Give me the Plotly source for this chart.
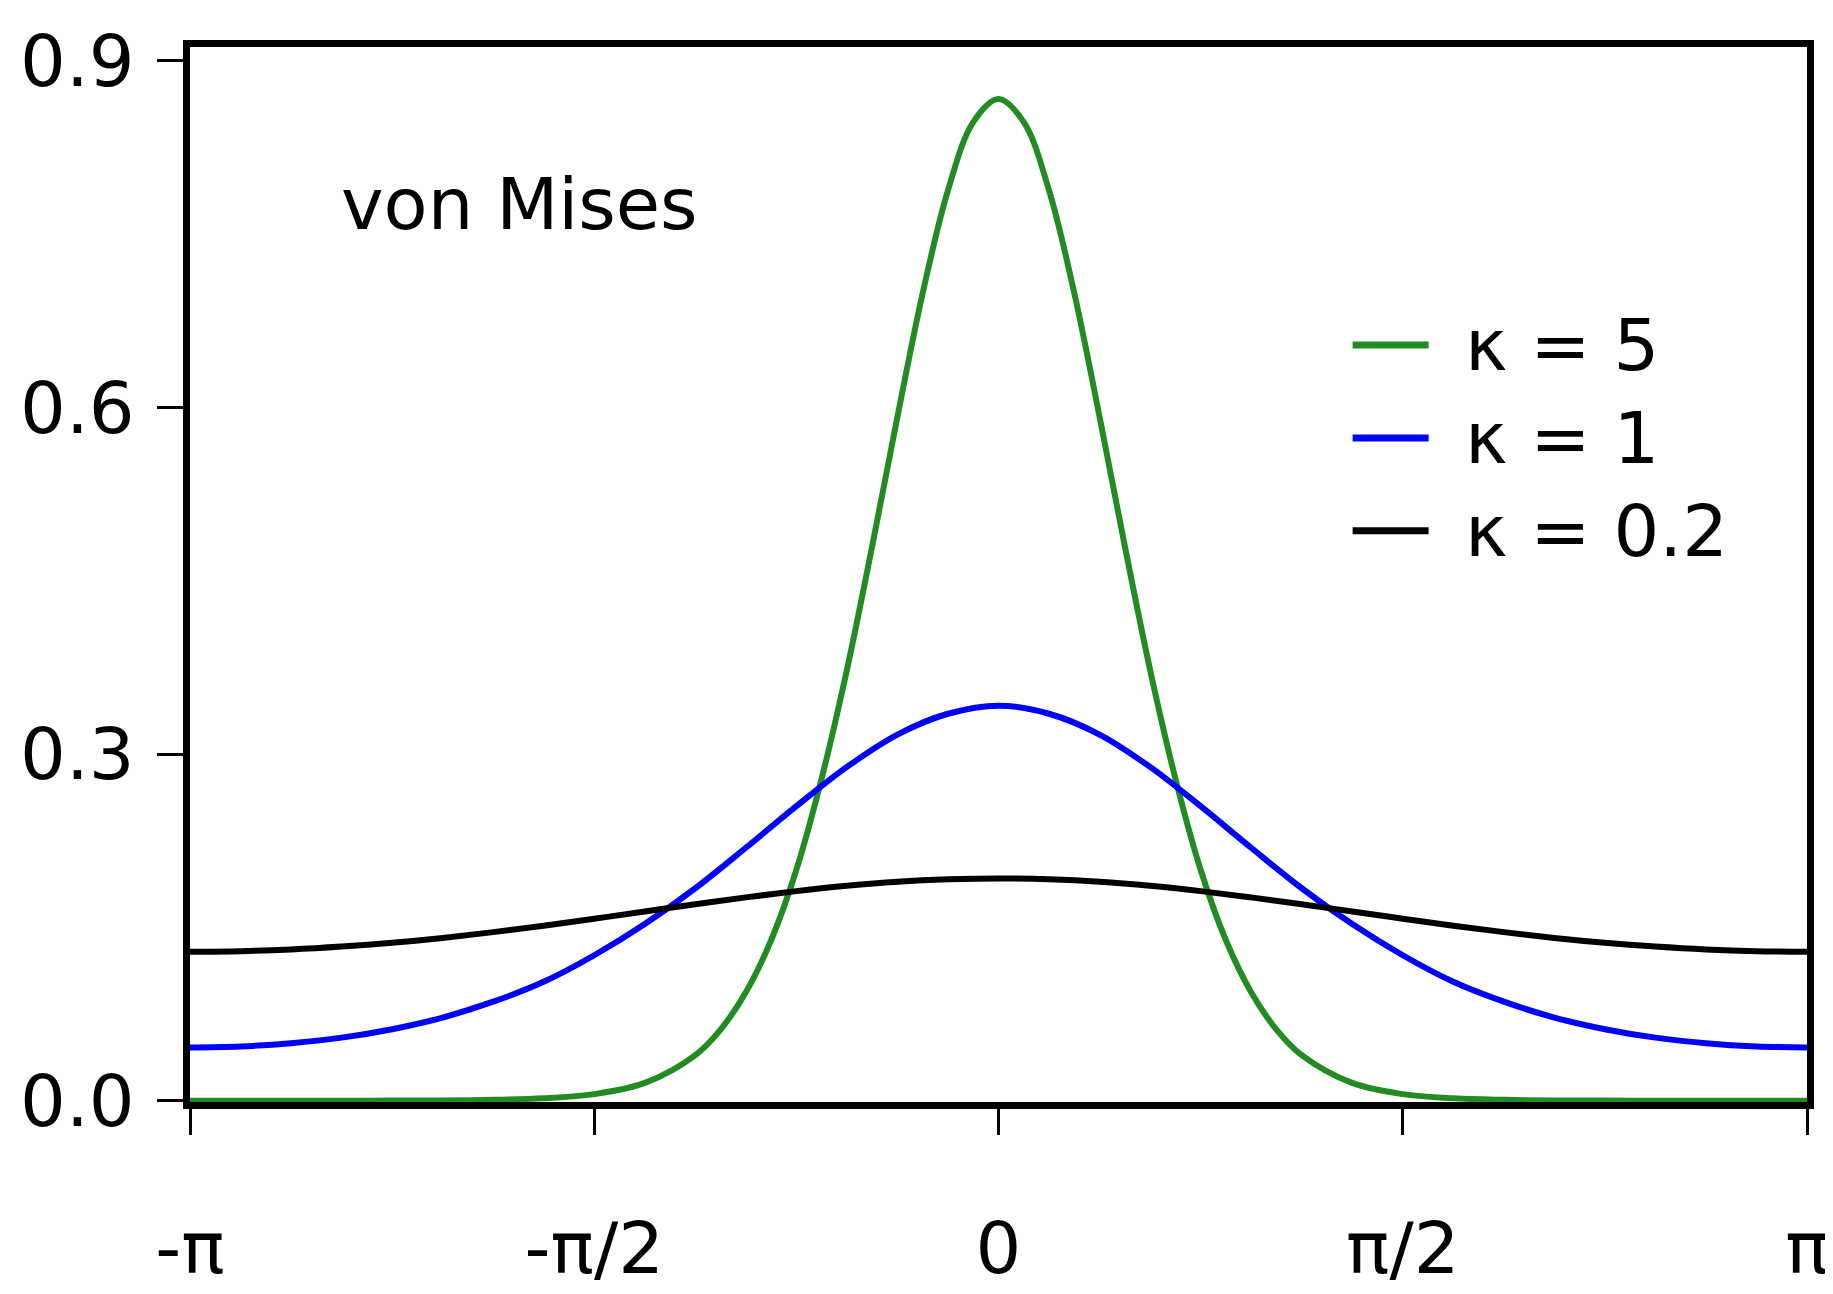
import math
import plotly.graph_objects as go

# sample angles (0..pi), densities; mirrored for negative angles
half_x = [k * math.pi / 16 for k in range(17)]
k5_x = [k * math.pi / 32 for k in range(12)] + [k * math.pi / 16 for k in range(6, 17)]
k5_half = [0.867, 0.847, 0.788, 0.699, 0.592, 0.480, 0.373, 0.279, 0.200, 0.139,
           0.094, 0.0617, 0.0396, 0.0155, 0.0058, 0.0022, 0.0009, 0.0004,
           0.0002, 0.0001, 0.0001, 0.0001, 0.0001]
k1_half = [0.342, 0.335, 0.317, 0.289, 0.255, 0.219, 0.184, 0.153, 0.126,
           0.103, 0.0858, 0.0721, 0.0620, 0.0547, 0.0499, 0.0471, 0.0462]
k02_half = [0.1925, 0.1917, 0.1896, 0.1861, 0.1815, 0.1761, 0.1701, 0.1639, 0.1576,
            0.1515, 0.1460, 0.1410, 0.1368, 0.1335, 0.1310, 0.1295, 0.1290]

def sym_x(h):
    return [-v for v in h[:0:-1]] + h

def sym(h):
    return h[:0:-1] + h

series = [("κ = 5", sym_x(k5_x), sym(k5_half), "#228b22"),
          ("κ = 1", sym_x(half_x), sym(k1_half), "#0000ff"),
          ("κ = 0.2", sym_x(half_x), sym(k02_half), "#000000")]

tick_vals = [-math.pi, -math.pi / 2, 0, math.pi / 2, math.pi]
tick_text = ["-π", "-π/2", "0", "π/2", "π"]

fig = go.Figure()
for name, x, y, c in series:
    fig.add_trace(go.Scatter(x=x, y=y, mode="lines", name=name,
                             line=dict(color=c, width=6, shape="spline"),
                             showlegend=False))

font = dict(family="DejaVu Sans", size=72, color="black")
# hand-drawn legend
for i, (name, x, y, c) in enumerate(series):
    yp = [0.7175, 0.6295, 0.5414][i]
    fig.add_shape(type="line", xref="paper", yref="paper", x0=0.719, x1=0.766,
                  y0=yp, y1=yp, line=dict(color=c, width=7))
    fig.add_annotation(xref="paper", yref="paper", x=0.787, y=yp, text=name,
                       showarrow=False, xanchor="left", yanchor="middle", font=font)
fig.add_annotation(xref="paper", yref="paper", x=0.092, y=0.851, text="von Mises",
                   showarrow=False, xanchor="left", yanchor="middle", font=font)

axis = dict(showgrid=False, zeroline=False, showline=True, linecolor="black",
            linewidth=7, mirror=True, ticks="outside", ticklen=26, tickwidth=3,
            tickcolor="black", tickfont=font, ticklabeloverflow="allow")
fig.update_xaxes(range=[-math.pi, math.pi], tickvals=tick_vals, ticktext=tick_text,
                 ticklabelstandoff=52, **axis)
fig.update_yaxes(range=[-0.001, 0.912], tickvals=[0, 0.3, 0.6, 0.9],
                 ticktext=["0.0", "0.3", "0.6", "0.9"], ticklabelstandoff=8, **axis)
fig.update_layout(width=1833, height=1294, plot_bgcolor="white", paper_bgcolor="white",
                  margin=dict(l=159, r=22, t=12, b=131), font=font)
fig.write_html("out.html")
